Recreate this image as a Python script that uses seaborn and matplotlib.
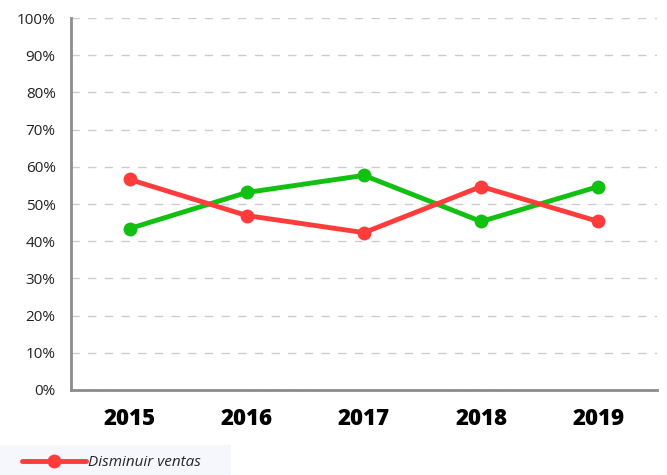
import matplotlib
matplotlib.use("Agg")
import matplotlib.pyplot as plt
import seaborn as sns
import pandas as pd
from matplotlib.patches import Rectangle
from matplotlib.ticker import PercentFormatter

years = ["2015", "2016", "2017", "2018", "2019"]
disminuir = [56.6, 46.9, 42.3, 54.7, 45.3]
aumentar = [43.4, 53.1, 57.7, 45.3, 54.7]

sns.set_style("white")
plt.rcParams["font.family"] = ["Open Sans", "DejaVu Sans"]

df = pd.DataFrame({
    "year": years * 2,
    "value": disminuir + aumentar,
    "serie": ["Disminuir ventas"] * 5 + ["Aumentar ventas"] * 5,
})

fig = plt.figure(figsize=(6.67, 4.75), dpi=100)
ax = fig.add_axes([0.1064, 0.179, 0.8786, 0.783])

colors = {"Disminuir ventas": "#ff3b3b", "Aumentar ventas": "#11c011"}
for name in ["Aumentar ventas", "Disminuir ventas"]:
    sub = df[df["serie"] == name]
    sns.lineplot(data=sub, x="year", y="value", ax=ax, color=colors[name],
                 linewidth=3.5, marker="o", markersize=10, markeredgewidth=0,
                 label=name, zorder=3 if name == "Disminuir ventas" else 2)

ax.set_xlim(-0.5, 4.5)
ax.set_ylim(0, 100)
ax.set_yticks(range(0, 101, 10))
ax.yaxis.set_major_formatter(PercentFormatter(decimals=0))
ax.grid(axis="y", color="#cccccc", linestyle=(0, (6, 6)), linewidth=1)
ax.set_xlabel("")
ax.set_ylabel("")

for s in ["top", "right"]:
    ax.spines[s].set_visible(False)
for s in ["left", "bottom"]:
    ax.spines[s].set_color("#8c8c8c")
    ax.spines[s].set_linewidth(2)

ax.tick_params(axis="y", direction="in", length=4, width=1.5, color="#8c8c8c",
               labelsize=11, labelcolor="#222222", pad=11)
ax.tick_params(axis="x", length=0, labelsize=16, labelcolor="black", pad=12)
for lbl in ax.get_xticklabels():
    lbl.set_fontweight("heavy")

# fondo de la leyenda
fig.patches.append(Rectangle((0, 0), 231 / 667, 30 / 475, transform=fig.transFigure,
                             facecolor="#f5f7fd", edgecolor="none", zorder=0))

handles, labels = ax.get_legend_handles_labels()
idx = labels.index("Disminuir ventas")
leg = fig.legend([handles[idx]], [labels[idx]], loc="center left",
                 bbox_to_anchor=(22 / 667, 12 / 475), frameon=False,
                 prop={"style": "italic", "size": 11}, handlelength=4.2,
                 handletextpad=0.1, borderpad=0, borderaxespad=0)
ax.get_legend().remove()

fig.savefig("out.png", dpi=100)
